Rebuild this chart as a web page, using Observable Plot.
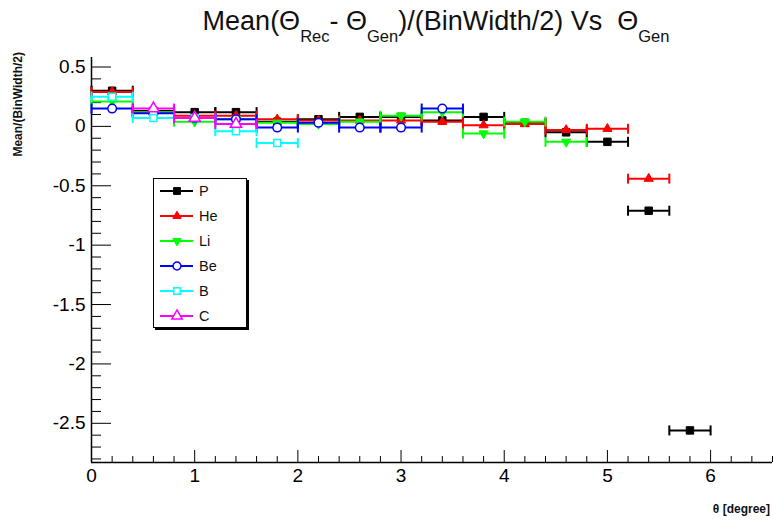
<!DOCTYPE html>
<html><head><meta charset="utf-8">
<script src="https://cdn.jsdelivr.net/npm/d3@7"></script>
<script src="https://cdn.jsdelivr.net/npm/@observablehq/plot@0.6"></script>
<style>
body{margin:0;background:#fff;}
#wrap{position:relative;width:773px;height:523px;font-family:"Liberation Sans",Arial,sans-serif;}
#wrap > svg.plot{position:absolute;left:0;top:0;}
#overlay{position:absolute;left:0;top:0;pointer-events:none;}
</style></head><body><div id="wrap"></div>
<script>
// ---- data ----
const centers = [0.2, 0.6, 1.0, 1.4, 1.8, 2.2, 2.6, 3.0, 3.4, 3.8, 4.2, 4.6, 5.0, 5.4, 5.8];
const halfWidth = 0.2;
const seriesNames = ["P", "He", "Li", "Be", "B", "C"];
const seriesColors = ["#000000", "#ff0000", "#00ff00", "#0000ff", "#00ffff", "#ff00ff"];
const P  = [0.30, 0.13, 0.12, 0.12, 0.04, 0.06, 0.08, 0.08, 0.05, 0.08, 0.03, -0.05, -0.13, -0.71, -2.56];
const He = [0.29, 0.12, 0.09, 0.09, 0.06, 0.05, 0.05, 0.05, 0.04, 0.01, 0.02, -0.03, -0.02, -0.44];
const Li = [0.21, 0.12, 0.04, 0.06, 0.03, 0.02, 0.04, 0.09, 0.12, -0.06, 0.04, -0.13];
const Be = [0.15, 0.11, 0.07, 0.06, -0.01, 0.03, -0.01, -0.01, 0.15];
const B  = [0.25, 0.07, 0.07, -0.04, -0.14];
const C  = [null, 0.15, 0.07, 0.02];
const xMajorTicks = [0, 1, 2, 3, 4, 5, 6];
const yMajorTicks = [0.5, 0, -0.5, -1, -1.5, -2, -2.5];
const titleMain = ["Mean(\u0398", "- \u0398", ")/(BinWidth/2) Vs \u00a0\u0398"];
const titleSubs = ["Rec", "Gen", "Gen"];
const yLabel = "Mean/(BinWidth/2)";
const xLabel = "\u03b8 [degree]";

// ---- build table ----
const seriesValues = [P, He, Li, Be, B, C];
const table = [];
seriesValues.forEach((vals, s) => vals.forEach((v, i) => {
  if (v !== null) table.push({series: seriesNames[s], x: centers[i], v});
}));

// symbols
const triDown = {draw(ctx, size) {
  const y = -Math.sqrt(size / (Math.sqrt(3) * 3));
  ctx.moveTo(0, -2 * y); ctx.lineTo(-Math.sqrt(3) * y, y); ctx.lineTo(Math.sqrt(3) * y, y); ctx.closePath();
}};
const capSym = {draw(ctx) { ctx.moveTo(0, -5); ctx.lineTo(0, 5); }};
const markerStyle = {
  P:  {symbol: "square", r: 4.2, fill: true},
  He: {symbol: "triangle", r: 3.4, fill: true},
  Li: {symbol: triDown, r: 3.4, fill: true},
  Be: {symbol: "circle", r: 4.3, fill: false},
  B:  {symbol: "square", r: 4.0, fill: false},
  C:  {symbol: "triangle", r: 4.2, fill: false}
};

const xMinor = d3.range(0, 6.61, 0.2).filter(t => Math.abs(t - Math.round(t)) > 1e-6);
const yMinor = d3.range(-28, 6).map(k => k / 10).filter(t => Math.abs(t * 2 - Math.round(t * 2)) > 1e-6);

const seriesMarks = seriesNames.flatMap((name, s) => {
  const rows = table.filter(d => d.series === name);
  const col = seriesColors[s];
  const ms = markerStyle[name];
  const caps = rows.flatMap(d => [{x: d.x - halfWidth, v: d.v}, {x: d.x + halfWidth, v: d.v}]);
  return [
    Plot.ruleY(rows, {x1: d => d.x - halfWidth, x2: d => d.x + halfWidth, y: "v", stroke: col, strokeWidth: 2}),
    Plot.dot(caps, {x: "x", y: "v", symbol: capSym, stroke: col, strokeWidth: 2, fill: "none"}),
    Plot.dot(rows, {x: "x", y: "v", symbol: ms.symbol, r: ms.r, fill: ms.fill ? col : "white", stroke: col, strokeWidth: ms.fill ? 1 : 1.5})
  ];
});

const chart = Plot.plot({
  width: 773, height: 523,
  marginLeft: 91, marginRight: 1, marginTop: 57, marginBottom: 61,
  x: {domain: [0, 6.6]},
  y: {domain: [-2.83, 0.58]},
  style: {fontFamily: "'Liberation Sans', Arial, sans-serif", fontSize: "19px", color: "#000", background: "white"},
  marks: [
    Plot.axisX({ticks: xMajorTicks, tickSize: -12, tickPadding: 18, tickFormat: d => String(d), fontSize: 19, label: null}),
    Plot.axisX({ticks: xMinor, tickSize: -6, text: null, label: null}),
    Plot.axisY({ticks: yMajorTicks, tickSize: -20, tickPadding: 26, tickFormat: d => String(d), fontSize: 19, label: null}),
    Plot.axisY({ticks: yMinor, tickSize: -10, text: null, label: null}),
    Plot.ruleX([0], {stroke: "#000", strokeWidth: 1.5}),
    Plot.ruleY([-2.83], {stroke: "#000", strokeWidth: 1.5}),
    ...seriesMarks
  ]
});
chart.classList.add("plot");
const wrap = document.getElementById("wrap");
wrap.appendChild(chart);

// ---- overlay: title, axis labels, legend ----
const ov = d3.select(wrap).append("svg").attr("id", "overlay").attr("width", 773).attr("height", 523)
  .attr("font-family", "'Liberation Sans', Arial, sans-serif");
const title = ov.append("text").attr("x", 436).attr("y", 30).attr("text-anchor", "middle").attr("font-size", 27).attr("fill", "#111");
titleMain.forEach((t, i) => {
  title.append("tspan").attr("dy", i === 0 ? 0 : -12).text(t);
  title.append("tspan").attr("dy", 12).attr("font-size", 16.5).text(titleSubs[i]);
});
ov.append("text").attr("transform", "translate(22,52) rotate(-90)").attr("text-anchor", "end")
  .attr("font-size", 12).attr("font-weight", "bold").attr("fill", "#111").text(yLabel);
ov.append("text").attr("x", 770).attr("y", 513).attr("text-anchor", "end")
  .attr("font-size", 12).attr("font-weight", "bold").attr("fill", "#111").text(xLabel);

const lg = ov.append("g").attr("transform", "translate(153,178)");
lg.append("rect").attr("x", 2).attr("y", 2).attr("width", 94).attr("height", 150).attr("fill", "#000");
lg.append("rect").attr("x", 0.5).attr("y", 0.5).attr("width", 93).attr("height", 149).attr("fill", "white").attr("stroke", "#000");
seriesNames.forEach((name, s) => {
  const yy = 13 + s * 25;
  const col = seriesColors[s];
  const ms = markerStyle[name];
  lg.append("line").attr("x1", 7).attr("x2", 40).attr("y1", yy).attr("y2", yy).attr("stroke", col).attr("stroke-width", 2);
  const sym = typeof ms.symbol === "string"
    ? {square: d3.symbolSquare, triangle: d3.symbolTriangle, circle: d3.symbolCircle}[ms.symbol] : ms.symbol;
  lg.append("path").attr("transform", `translate(24,${yy})`)
    .attr("d", d3.symbol(sym, Math.PI * ms.r * ms.r * 0.85)())
    .attr("fill", ms.fill ? col : "white").attr("stroke", col).attr("stroke-width", ms.fill ? 1 : 1.5);
  lg.append("text").attr("x", 46).attr("y", yy + 5).attr("font-size", 14.5).attr("fill", "#111").text(name);
});
</script>
</body></html>
